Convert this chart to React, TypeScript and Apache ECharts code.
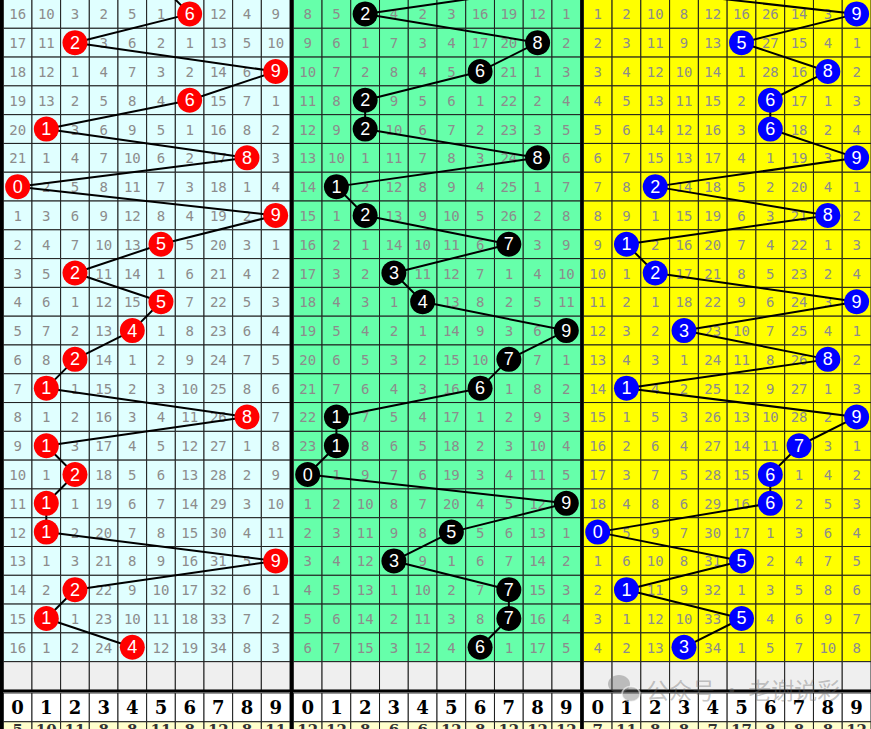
import React, { useEffect, useRef } from "react";
import * as echarts from "echarts";

const headerDigits = [0, 1, 2, 3, 4, 5, 6, 7, 8, 9];

const prevDigitA = 5;
const prevDigitB = 9;
const prevDigitC = 0;

const digitsA = [6, 2, 9, 6, 1, 8, 0, 9, 5, 2, 5, 4, 2, 1, 8, 1, 2, 1, 1, 9, 2, 1, 4];
const digitsB = [2, 8, 6, 2, 2, 8, 1, 2, 7, 3, 4, 9, 7, 6, 1, 1, 0, 9, 5, 3, 7, 7, 6];
const digitsC = [9, 5, 8, 6, 6, 9, 2, 8, 1, 2, 9, 3, 8, 1, 9, 7, 6, 6, 0, 5, 1, 5, 3];

const missA = [
  [16, 10, 3, 2, 5, 1, 6, 12, 4, 9],
  [17, 11, 2, 3, 6, 2, 1, 13, 5, 10],
  [18, 12, 1, 4, 7, 3, 2, 14, 6, 9],
  [19, 13, 2, 5, 8, 4, 6, 15, 7, 1],
  [20, 1, 3, 6, 9, 5, 1, 16, 8, 2],
  [21, 1, 4, 7, 10, 6, 2, 17, 8, 3],
  [0, 2, 5, 8, 11, 7, 3, 18, 1, 4],
  [1, 3, 6, 9, 12, 8, 4, 19, 2, 9],
  [2, 4, 7, 10, 13, 5, 5, 20, 3, 1],
  [3, 5, 2, 11, 14, 1, 6, 21, 4, 2],
  [4, 6, 1, 12, 15, 5, 7, 22, 5, 3],
  [5, 7, 2, 13, 4, 1, 8, 23, 6, 4],
  [6, 8, 2, 14, 1, 2, 9, 24, 7, 5],
  [7, 1, 1, 15, 2, 3, 10, 25, 8, 6],
  [8, 1, 2, 16, 3, 4, 11, 26, 8, 7],
  [9, 1, 3, 17, 4, 5, 12, 27, 1, 8],
  [10, 1, 2, 18, 5, 6, 13, 28, 2, 9],
  [11, 1, 1, 19, 6, 7, 14, 29, 3, 10],
  [12, 1, 2, 20, 7, 8, 15, 30, 4, 11],
  [13, 1, 3, 21, 8, 9, 16, 31, 5, 9],
  [14, 2, 2, 22, 9, 10, 17, 32, 6, 1],
  [15, 1, 1, 23, 10, 11, 18, 33, 7, 2],
  [16, 1, 2, 24, 4, 12, 19, 34, 8, 3],
];

const missB = [
  [8, 5, 2, 4, 2, 3, 16, 19, 12, 1],
  [9, 6, 1, 7, 3, 4, 17, 20, 8, 2],
  [10, 7, 2, 8, 4, 5, 6, 21, 1, 3],
  [11, 8, 2, 9, 5, 6, 1, 22, 2, 4],
  [12, 9, 2, 10, 6, 7, 2, 23, 3, 5],
  [13, 10, 1, 11, 7, 8, 3, 24, 8, 6],
  [14, 1, 2, 12, 8, 9, 4, 25, 1, 7],
  [15, 1, 2, 13, 9, 10, 5, 26, 2, 8],
  [16, 2, 1, 14, 10, 11, 6, 7, 3, 9],
  [17, 3, 2, 3, 11, 12, 7, 1, 4, 10],
  [18, 4, 3, 1, 4, 13, 8, 2, 5, 11],
  [19, 5, 4, 2, 1, 14, 9, 3, 6, 9],
  [20, 6, 5, 3, 2, 15, 10, 7, 7, 1],
  [21, 7, 6, 4, 3, 16, 6, 1, 8, 2],
  [22, 1, 7, 5, 4, 17, 1, 2, 9, 3],
  [23, 1, 8, 6, 5, 18, 2, 3, 10, 4],
  [0, 1, 9, 7, 6, 19, 3, 4, 11, 5],
  [1, 2, 10, 8, 7, 20, 4, 5, 12, 9],
  [2, 3, 11, 9, 8, 5, 5, 6, 13, 1],
  [3, 4, 12, 3, 9, 1, 6, 7, 14, 2],
  [4, 5, 13, 1, 10, 2, 7, 7, 15, 3],
  [5, 6, 14, 2, 11, 3, 8, 7, 16, 4],
  [6, 7, 15, 3, 12, 4, 6, 1, 17, 5],
];

const missC = [
  [1, 2, 10, 8, 12, 16, 26, 14, 3, 9],
  [2, 3, 11, 9, 13, 5, 27, 15, 4, 1],
  [3, 4, 12, 10, 14, 1, 28, 16, 8, 2],
  [4, 5, 13, 11, 15, 2, 6, 17, 1, 3],
  [5, 6, 14, 12, 16, 3, 6, 18, 2, 4],
  [6, 7, 15, 13, 17, 4, 1, 19, 3, 9],
  [7, 8, 2, 14, 18, 5, 2, 20, 4, 1],
  [8, 9, 1, 15, 19, 6, 3, 21, 8, 2],
  [9, 1, 2, 16, 20, 7, 4, 22, 1, 3],
  [10, 1, 2, 17, 21, 8, 5, 23, 2, 4],
  [11, 2, 1, 18, 22, 9, 6, 24, 3, 9],
  [12, 3, 2, 3, 23, 10, 7, 25, 4, 1],
  [13, 4, 3, 1, 24, 11, 8, 26, 8, 2],
  [14, 1, 4, 2, 25, 12, 9, 27, 1, 3],
  [15, 1, 5, 3, 26, 13, 10, 28, 2, 9],
  [16, 2, 6, 4, 27, 14, 11, 7, 3, 1],
  [17, 3, 7, 5, 28, 15, 6, 1, 4, 2],
  [18, 4, 8, 6, 29, 16, 6, 2, 5, 3],
  [0, 5, 9, 7, 30, 17, 1, 3, 6, 4],
  [1, 6, 10, 8, 31, 5, 2, 4, 7, 5],
  [2, 1, 11, 9, 32, 1, 3, 5, 8, 6],
  [3, 1, 12, 10, 33, 5, 4, 6, 9, 7],
  [4, 2, 13, 3, 34, 1, 5, 7, 10, 8],
];

const sumA = [5, 10, 11, 8, 8, 11, 8, 12, 8, 11];
const sumB = [12, 12, 8, 6, 6, 12, 8, 12, 12, 12];
const sumC = [7, 11, 8, 8, 7, 17, 8, 8, 8, 12];

const TOTAL_ROWS = 26;
const GRAY_ROW = 23;
const HEAD_ROW = 24;
const SUM_ROW = 25;

const panels = [
  { left: 3.3, width: 286.7, bg: "#E0FFFF", ball: "#FF0000", digits: digitsA, miss: missA, prev: prevDigitA, sums: sumA },
  { left: 293.3, width: 287.4, bg: "#66FFAA", ball: "#000000", digits: digitsB, miss: missB, prev: prevDigitB, sums: sumB },
  { left: 583.3, width: 287.7, bg: "#FFFF00", ball: "#0000FF", digits: digitsC, miss: missC, prev: prevDigitC, sums: sumC },
];

function buildOption() {
  const grid: any[] = [];
  const xAxis: any[] = [];
  const yAxis: any[] = [];
  const series: any[] = [];

  panels.forEach((p, i) => {
    grid.push({
      left: p.left,
      width: p.width,
      top: -0.5,
      height: 28.79 * TOTAL_ROWS,
      containLabel: false,
      outerBoundsMode: "none",
    });
    xAxis.push({ type: "value", gridIndex: i, min: 0, max: 10, show: false });
    yAxis.push({ type: "value", gridIndex: i, min: 0, max: TOTAL_ROWS, inverse: true, show: false });

    const cells: number[][] = [];
    p.miss.forEach((row, r) => {
      row.forEach((v, c) => {
        cells.push([c, r, v, c === p.digits[r] ? 1 : 0]);
      });
    });
    for (let c = 0; c < 10; c++) {
      cells.push([c, GRAY_ROW, -1, 2]);
      cells.push([c, HEAD_ROW, headerDigits[c], 3]);
      cells.push([c, SUM_ROW, p.sums[c], 4]);
    }

    series.push({
      type: "custom",
      xAxisIndex: i,
      yAxisIndex: i,
      z: 1,
      clip: false,
      data: cells,
      renderItem: (params: any, api: any) => {
        const c = api.value(0);
        const r = api.value(1);
        const v = api.value(2);
        const k = api.value(3);
        const shift = r >= HEAD_ROW ? 2.5 : 0;
        const p0 = api.coord([c, r]);
        const p1 = api.coord([c + 1, r + 1]);
        const x = p0[0];
        const y = p0[1] + shift;
        const w = p1[0] - p0[0];
        const h = p1[1] - p0[1];
        let fill = p.bg;
        if (k === 2) fill = "#EFEFEF";
        if (k === 3) fill = "#FFFFFF";
        if (k === 4) fill = "#FFFFCC";
        const children: any[] = [
          {
            type: "rect",
            shape: { x, y, width: w, height: h },
            style: { fill, stroke: "#1e1e1e", lineWidth: 1 },
          },
        ];
        if (k === 0) {
          children.push({
            type: "text",
            style: {
              text: String(v),
              x: x + w / 2,
              y: y + h / 2 + 0.5,
              align: "center",
              verticalAlign: "middle",
              textAlign: "center",
              textVerticalAlign: "middle",
              fill: "#8c8c8c",
              fontSize: 14,
              fontFamily: "'DejaVu Sans Mono', monospace",
            },
          });
        } else if (k === 3) {
          children.push({
            type: "text",
            style: {
              text: String(v),
              x: x + w / 2,
              y: y + h / 2,
              align: "center",
              verticalAlign: "middle",
              textAlign: "center",
              textVerticalAlign: "middle",
              fill: "#000000",
              fontSize: 18,
              fontWeight: "bold",
              fontFamily: "'DejaVu Serif', 'Liberation Serif', serif",
            },
          });
        } else if (k === 4) {
          children.push({
            type: "text",
            style: {
              text: String(v),
              x: x + w / 2,
              y: y + 1,
              align: "center",
              verticalAlign: "top",
              textAlign: "center",
              textVerticalAlign: "top",
              fill: "#333333",
              fontSize: 15,
              fontWeight: "bold",
              fontFamily: "'DejaVu Serif', 'Liberation Serif', serif",
            },
          });
        }
        return { type: "group", children };
      },
    });

    const linePts: number[][] = [[p.prev + 0.5, -0.5]];
    p.digits.forEach((d, r) => linePts.push([d + 0.5, r + 0.5]));
    series.push({
      type: "line",
      xAxisIndex: i,
      yAxisIndex: i,
      z: 3,
      clip: false,
      symbol: "none",
      data: linePts,
      lineStyle: { color: "#000000", width: 2 },
    });

    series.push({
      type: "scatter",
      xAxisIndex: i,
      yAxisIndex: i,
      z: 4,
      symbol: "circle",
      symbolSize: 25,
      data: p.digits.map((d, r) => [d + 0.5, r + 0.5, d]),
      itemStyle: { color: p.ball, opacity: 1 },
      label: {
        show: true,
        position: "inside",
        formatter: (pr: any) => String(pr.value[2]),
        color: "#FFFFFF",
        fontSize: 18,
        fontFamily: "'Liberation Sans', Arial, sans-serif",
      },
    });
  });

  const graphic: any[] = [
    { type: "rect", z: 100, shape: { x: 0, y: 0, width: 3.3, height: 729 }, style: { fill: "#000" } },
    { type: "rect", z: 100, shape: { x: 290, y: 0, width: 3.3, height: 729 }, style: { fill: "#000" } },
    { type: "rect", z: 100, shape: { x: 580.3, y: 0, width: 3.2, height: 729 }, style: { fill: "#000" } },
    { type: "rect", z: 100, shape: { x: 0, y: 689.6, width: 871, height: 2.6 }, style: { fill: "#000" } },
    { type: "ellipse", z: 110, shape: { cx: 619, cy: 684, rx: 11, ry: 9 }, style: { fill: "rgba(110,110,110,0.4)" } },
    { type: "ellipse", z: 111, shape: { cx: 631, cy: 694, rx: 9, ry: 7.5 }, style: { fill: "rgba(110,110,110,0.4)", stroke: "rgba(255,255,255,0.6)", lineWidth: 1.5 } },
    {
      type: "text",
      z: 112,
      style: {
        text: "公众号 · 老谢说彩",
        x: 646,
        y: 689,
        align: "left",
        verticalAlign: "middle",
        textAlign: "left",
        textVerticalAlign: "middle",
        fill: "rgba(110,110,110,0.4)",
        fontSize: 23,
        fontFamily: "'Noto Sans CJK SC', sans-serif",
      },
    },
  ];

  return {
    animation: false,
    backgroundColor: "#FFFFFF",
    grid,
    xAxis,
    yAxis,
    series,
    graphic,
  };
}

export default function App() {
  const ref = useRef<HTMLDivElement>(null);
  useEffect(() => {
    document.body.style.margin = "0";
    if (!ref.current) return;
    const chart = echarts.init(ref.current, undefined, { renderer: "svg" });
    chart.setOption(buildOption() as any);
    return () => chart.dispose();
  }, []);
  return (
    <div
      ref={ref}
      style={{ position: "absolute", left: 0, top: 0, width: 871, height: 729 }}
    />
  );
}
